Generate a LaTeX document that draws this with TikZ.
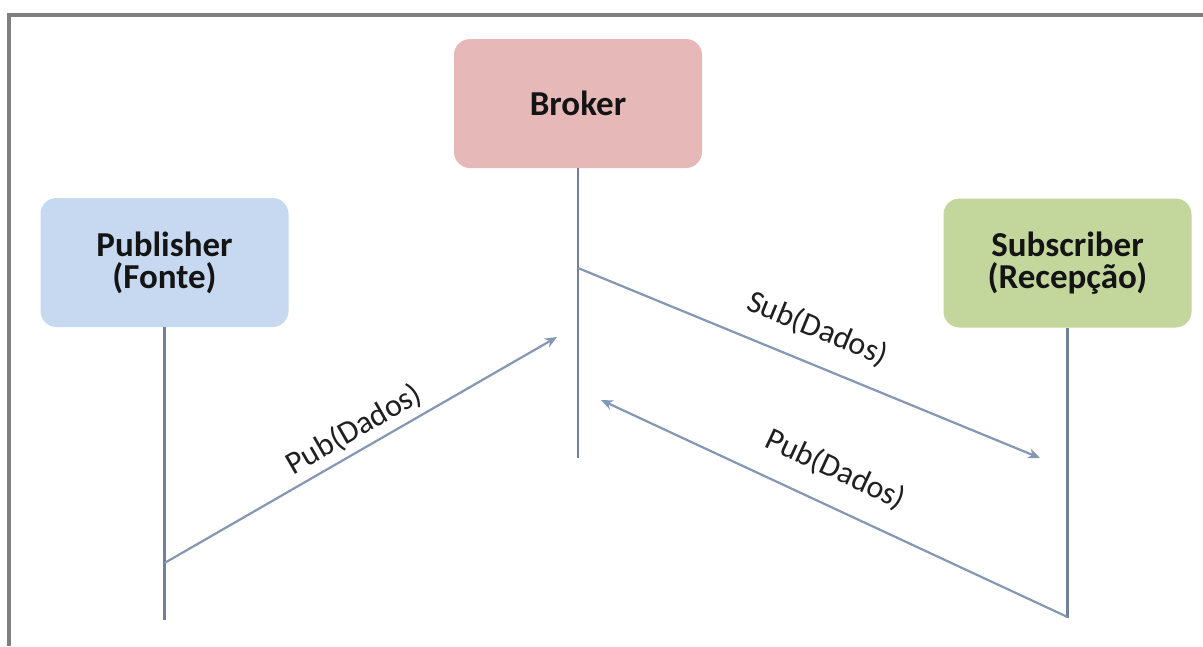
\documentclass[tikz,border=0pt]{standalone}
\usepackage{fontspec}
\setmainfont{Carlito}
\usetikzlibrary{arrows.meta}
\definecolor{framegray}{HTML}{7F7F7F}
\definecolor{linkblue}{HTML}{8497B5}
\definecolor{brokerfill}{HTML}{E6B9B8}
\definecolor{pubfill}{HTML}{C6D9F1}
\definecolor{subfill}{HTML}{C3D69B}
\tikzset{
  actor/.style={rounded corners=16pt, minimum width=248pt, minimum height=129pt,
    align=center, font=\fontsize{35}{32}\selectfont\bfseries, text=black!92, inner sep=0pt},
  lifeline/.style={draw=linkblue!85!black, line width=2.2pt},
  msg/.style={draw=linkblue, line width=2.2pt, -{Stealth[length=12pt,width=10pt]}},
  msglabel/.style={sloped, font=\fontsize{32}{34}\selectfont, text=black!88, inner sep=0pt}
}
\begin{document}
\begin{tikzpicture}[x=1pt, y=-1pt]
  \useasboundingbox (0,0) rectangle (1203,646);
  \fill[white] (0,0) rectangle (1203,646);
  % window frame (top and left edges)
  \draw[framegray, line width=4pt] (9,646) -- (9,15) -- (1203,15);

  % participants
  \node[actor, fill=brokerfill] (broker) at (578,103.5) {Broker};
  \node[actor, fill=pubfill] (pub) at (164.5,262.5) {Publisher\\(Fonte)};
  \node[actor, fill=subfill] (sub) at (1067.5,263) {Subscriber\\(Recepção)};

  % lifelines
  \coordinate (brokerEnd) at (broker.south |- 0,458);
  \coordinate (pubEnd) at (pub.south |- 0,620);
  \coordinate (subEnd) at (sub.south |- 0,618);
  \draw[lifeline] (broker.south) -- (brokerEnd);
  \draw[lifeline] (pub.south) -- (pubEnd);
  \draw[lifeline] (sub.south) -- (subEnd);

  % message anchors
  \coordinate (pubOut) at (pub.south |- 0,563);
  \coordinate (brokerIn) at (557,337);
  \coordinate (brokerOut) at (broker.south |- 0,268);
  \coordinate (subIn) at (1040,458);
  \coordinate (subOut) at (sub.south |- 0,617);
  \coordinate (brokerBack) at (601,400);

  % messages
  \draw[msg] (pubOut) -- node[msglabel, pos=0.51, above=6pt] {Pub(Dados)} (brokerIn);
  \draw[msg] (brokerOut) -- node[msglabel, pos=0.49, above=20pt] {Sub(Dados)} (subIn);
  \draw[msg] (subOut) -- node[msglabel, pos=0.53, above=21pt] {Pub(Dados)} (brokerBack);
\end{tikzpicture}
\end{document}
